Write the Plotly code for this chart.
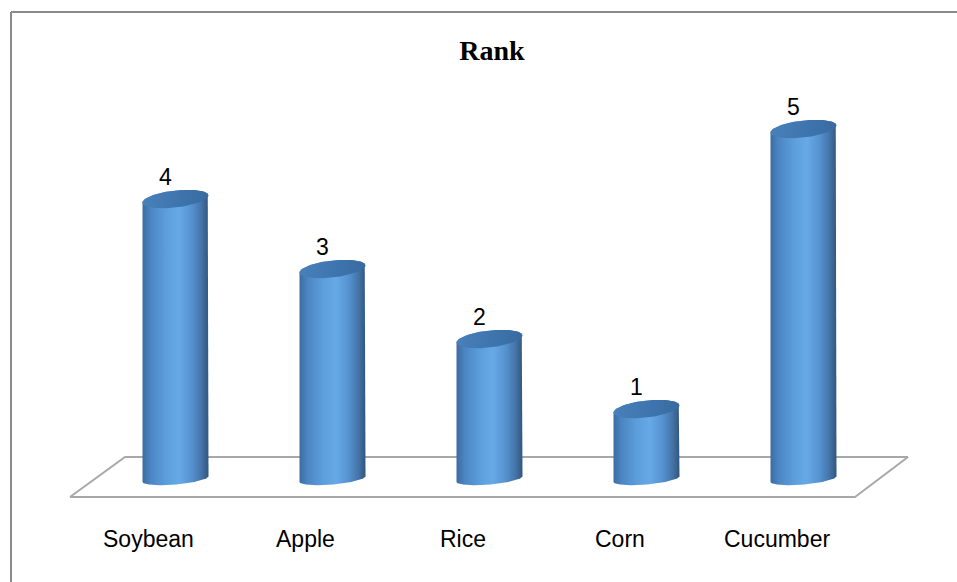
import numpy as np
import plotly.graph_objects as go

# Ranking data
crops = ["Soybean", "Apple", "Rice", "Corn", "Cucumber"]
rank = [4, 3, 2, 1, 5]

W, H = 957, 582

# Axis scaling: pixels per category step and per rank unit
PX_PER_CAT = 157.0
PX_PER_UNIT = 70.0
X0_PX = 175.5   # pixel column of the first category
Y0_PX = 479.0   # pixel row of rank 0

x_range = [-X0_PX / PX_PER_CAT, (W - X0_PX) / PX_PER_CAT]
y_range = [-(H - Y0_PX) / PX_PER_UNIT, Y0_PX / PX_PER_UNIT]


def dx(px):
    return px / PX_PER_CAT


def dy(px):
    return px / PX_PER_UNIT


def x_at(px):
    return (px - X0_PX) / PX_PER_CAT


def y_at(px):
    return (Y0_PX - px) / PX_PER_UNIT


# Cylinder shape parameters
HALF_W = dx(33)
TOP_B, TOP_TILT = dy(8.5), dy(3.5)
BOT_B, BOT_TILT = dy(5.5), dy(2.8)

BODY_SCALE = [
    [0.00, "#3b6ca1"],
    [0.12, "#4b85c2"],
    [0.35, "#5c9ddc"],
    [0.55, "#67a9e7"],
    [0.75, "#5591cf"],
    [0.90, "#4472a6"],
    [1.00, "#31567d"],
]
TOP_SCALE = [[0.0, "#4880ba"], [0.5, "#3f76b0"], [1.0, "#386ba0"]]

fig = go.Figure()

# Floor parallelogram
floor_x = [x_at(70), x_at(125), x_at(908), x_at(855), x_at(70)]
floor_y = [y_at(497), y_at(457), y_at(457), y_at(497), y_at(497)]
fig.add_trace(go.Scatter(
    x=floor_x, y=floor_y, mode="lines",
    line=dict(color="#a8a8a8", width=2),
    hoverinfo="skip",
))


def ellipse(cx, cy, b, tilt, t):
    return cx + HALF_W * np.cos(t), cy + b * np.sin(t) + tilt * np.cos(t)


for i, (name, v) in enumerate(zip(crops, rank)):
    # side of the cylinder: front half of base, up the right side, back across the top
    tb = np.linspace(np.pi, 2 * np.pi, 60)
    bx, by = ellipse(i, 0.0, BOT_B, BOT_TILT, tb)
    tt = np.linspace(0, np.pi, 60)
    tx, ty = ellipse(i, v, TOP_B, TOP_TILT, tt)
    xs = np.concatenate([bx, tx, bx[:1]])
    ys = np.concatenate([by, ty, by[:1]])
    fig.add_trace(go.Scatter(
        x=xs, y=ys, mode="lines", fill="toself",
        line=dict(width=0, color="rgba(0,0,0,0)"),
        fillgradient=dict(type="horizontal", colorscale=BODY_SCALE),
        hoverinfo="skip", name=name,
    ))
    # top cap
    tc = np.linspace(0, 2 * np.pi, 100)
    cx_, cy_ = ellipse(i, v, TOP_B, TOP_TILT, tc)
    fig.add_trace(go.Scatter(
        x=cx_, y=cy_, mode="lines", fill="toself",
        line=dict(width=0, color="rgba(0,0,0,0)"),
        fillgradient=dict(type="horizontal", colorscale=TOP_SCALE),
        hoverinfo="skip", name=name,
    ))
    # value label above the cap
    fig.add_annotation(
        x=i, y=v, text=str(v), showarrow=False,
        xshift=-10, yshift=22, yanchor="middle",
        font=dict(family="Liberation Sans", size=23, color="#000000"),
    )
    # category label in front of the floor
    fig.add_annotation(
        x=i, y=0, text=name, showarrow=False,
        xshift=-27, yshift=-60, yanchor="middle",
        font=dict(family="Liberation Sans", size=23, color="#000000"),
    )

# Chart frame (left and top edges)
fx, fy = 11 / W, 1 - 12 / H
fig.add_shape(type="line", xref="paper", yref="paper",
              x0=fx, y0=0, x1=fx, y1=fy,
              line=dict(color="#8a8a8a", width=2))
fig.add_shape(type="line", xref="paper", yref="paper",
              x0=fx, y0=fy, x1=1, y1=fy,
              line=dict(color="#8a8a8a", width=2))

fig.update_layout(
    width=W, height=H,
    margin=dict(l=0, r=0, t=0, b=0),
    paper_bgcolor="white", plot_bgcolor="white",
    showlegend=False,
    title=dict(
        text="<b>Rank</b>", x=492 / W, y=1 - 50 / H,
        xanchor="center", yanchor="middle",
        font=dict(family="Liberation Serif", size=28, color="#000000"),
    ),
    xaxis=dict(range=x_range, visible=False, fixedrange=True),
    yaxis=dict(range=y_range, visible=False, fixedrange=True),
)

fig.write_html("out.html")
